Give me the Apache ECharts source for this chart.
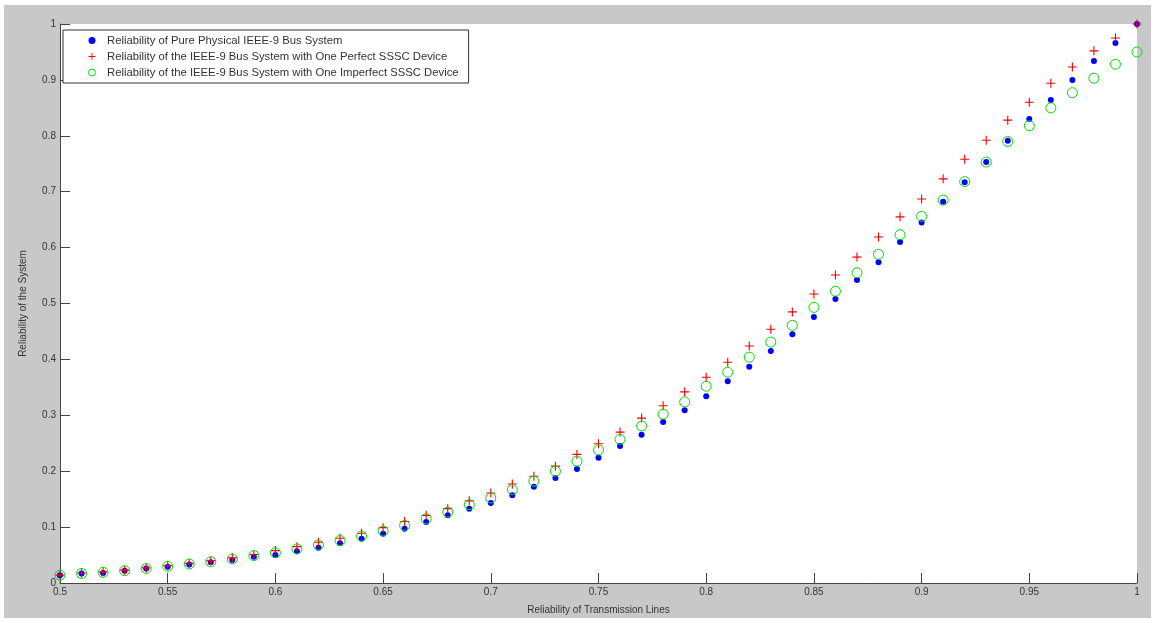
<!DOCTYPE html>
<html>
<head>
<meta charset="utf-8">
<script src="https://cdn.jsdelivr.net/npm/echarts@6/dist/echarts.min.js"></script>
<style>
  html, body { margin: 0; padding: 0; background: #fff; }
  #frame { position: absolute; left: 4px; top: 5px; width: 1147px; height: 613px; background: #c8c8c8; }
  #chart { position: absolute; left: 0; top: 0; width: 1155px; height: 623px; }
</style>
</head>
<body>
<div id="frame"></div>
<div id="chart"></div>
<script>
// ---------------- data ----------------
const xs = [0.50, 0.51, 0.52, 0.53, 0.54, 0.55, 0.56, 0.57, 0.58, 0.59,
            0.60, 0.61, 0.62, 0.63, 0.64, 0.65, 0.66, 0.67, 0.68, 0.69,
            0.70, 0.71, 0.72, 0.73, 0.74, 0.75, 0.76, 0.77, 0.78, 0.79,
            0.80, 0.81, 0.82, 0.83, 0.84, 0.85, 0.86, 0.87, 0.88, 0.89,
            0.90, 0.91, 0.92, 0.93, 0.94, 0.95, 0.96, 0.97, 0.98, 0.99, 1.00];

const pure_physical = [0.014, 0.017, 0.018, 0.022, 0.026, 0.029, 0.033, 0.037, 0.041, 0.047,
                       0.050, 0.057, 0.063, 0.071, 0.079, 0.088, 0.097, 0.109, 0.121, 0.133,
                       0.143, 0.157, 0.172, 0.188, 0.204, 0.224, 0.245, 0.265, 0.288, 0.309,
                       0.334, 0.361, 0.387, 0.415, 0.445, 0.476, 0.508, 0.542, 0.574, 0.610,
                       0.645, 0.682, 0.717, 0.753, 0.791, 0.830, 0.864, 0.900, 0.934, 0.966, 1.000];

const perfect_sssc = [0.014, 0.018, 0.020, 0.023, 0.027, 0.031, 0.035, 0.040, 0.045, 0.051,
                      0.058, 0.065, 0.073, 0.080, 0.089, 0.099, 0.110, 0.121, 0.133, 0.147,
                      0.161, 0.177, 0.191, 0.209, 0.230, 0.249, 0.270, 0.295, 0.317, 0.342,
                      0.368, 0.395, 0.424, 0.454, 0.485, 0.517, 0.551, 0.583, 0.619, 0.655,
                      0.687, 0.723, 0.758, 0.792, 0.828, 0.860, 0.894, 0.923, 0.952, 0.975, 1.000];

const imperfect_sssc = [0.014, 0.017, 0.019, 0.022, 0.026, 0.030, 0.034, 0.038, 0.043, 0.049,
                        0.054, 0.061, 0.068, 0.076, 0.084, 0.093, 0.103, 0.115, 0.127, 0.140,
                        0.152, 0.167, 0.182, 0.200, 0.218, 0.238, 0.257, 0.281, 0.302, 0.324,
                        0.352, 0.377, 0.404, 0.431, 0.461, 0.493, 0.522, 0.555, 0.588, 0.623,
                        0.656, 0.685, 0.718, 0.753, 0.790, 0.818, 0.850, 0.877, 0.903, 0.928, 0.950];

const series_names = [
    'Reliability of Pure Physical IEEE-9 Bus System',
    'Reliability of the IEEE-9 Bus System with One Perfect SSSC Device',
    'Reliability of the IEEE-9 Bus System with One Imperfect SSSC Device'
];

// ---------------- chart ----------------
const font = '"Liberation Sans", Arial, sans-serif';
const plus_path = 'path://M3.5,0h1v3.5h3.5v1h-3.5v3.5h-1v-3.5h-3.5v-1h3.5z';

function pairs(vals) {
    return xs.map((x, i) => [x, vals[i]]);
}

const chart = echarts.init(document.getElementById('chart'));

chart.setOption({
    animation: false,
    textStyle: { fontFamily: font },
    grid: {
        left: 60, top: 24, width: 1077, height: 559,
        show: true, backgroundColor: '#fff', borderWidth: 0
    },
    legend: {
        orient: 'vertical',
        left: 63, top: 30,
        padding: [4, 10, 4, 25],
        itemGap: 3,
        itemWidth: 20, itemHeight: 7,
        backgroundColor: '#fff',
        borderColor: '#333', borderWidth: 1,
        textStyle: { fontSize: 11.3, color: '#333', fontFamily: font, lineHeight: 13 },
        data: [
            { name: series_names[0], icon: 'circle', itemStyle: { color: '#0000ff' } },
            { name: series_names[1], icon: plus_path, itemStyle: { color: '#ff0000' } },
            { name: series_names[2], icon: 'circle',
              itemStyle: { color: 'rgba(0,0,0,0)', borderColor: '#00dd00', borderWidth: 1 } }
        ]
    },
    xAxis: {
        type: 'value',
        min: 0.5, max: 1, interval: 0.05,
        name: 'Reliability of Transmission Lines',
        nameLocation: 'middle', nameGap: 22,
        nameTextStyle: { fontSize: 10, color: '#333' },
        axisLine: { lineStyle: { color: '#444', width: 1 } },
        axisTick: { inside: true, length: 10, lineStyle: { color: '#444' } },
        axisLabel: { fontSize: 10, color: '#333', margin: 4 },
        splitLine: { show: false }
    },
    yAxis: {
        type: 'value',
        min: 0, max: 1, interval: 0.1,
        name: 'Reliability of the System',
        nameLocation: 'middle', nameGap: 32,
        nameTextStyle: { fontSize: 10, color: '#333' },
        axisLine: { show: true, lineStyle: { color: '#444', width: 1 } },
        axisTick: { show: true, inside: true, length: 10, lineStyle: { color: '#444' } },
        axisLabel: { fontSize: 10, color: '#333', margin: 4 },
        splitLine: { show: false }
    },
    series: [
        {
            name: series_names[0],
            type: 'scatter',
            data: pairs(pure_physical),
            symbol: 'circle', symbolSize: 6,
            itemStyle: { color: '#0000ff', opacity: 1 }
        },
        {
            name: series_names[1],
            type: 'scatter',
            data: pairs(perfect_sssc),
            symbol: plus_path, symbolSize: 9,
            itemStyle: { color: '#ff0000', opacity: 1 }
        },
        {
            name: series_names[2],
            type: 'scatter',
            data: pairs(imperfect_sssc),
            symbol: 'circle', symbolSize: 10,
            itemStyle: { color: 'rgba(0,0,0,0)', borderColor: '#00dd00', borderWidth: 1, opacity: 1 }
        }
    ]
});
</script>
</body>
</html>
